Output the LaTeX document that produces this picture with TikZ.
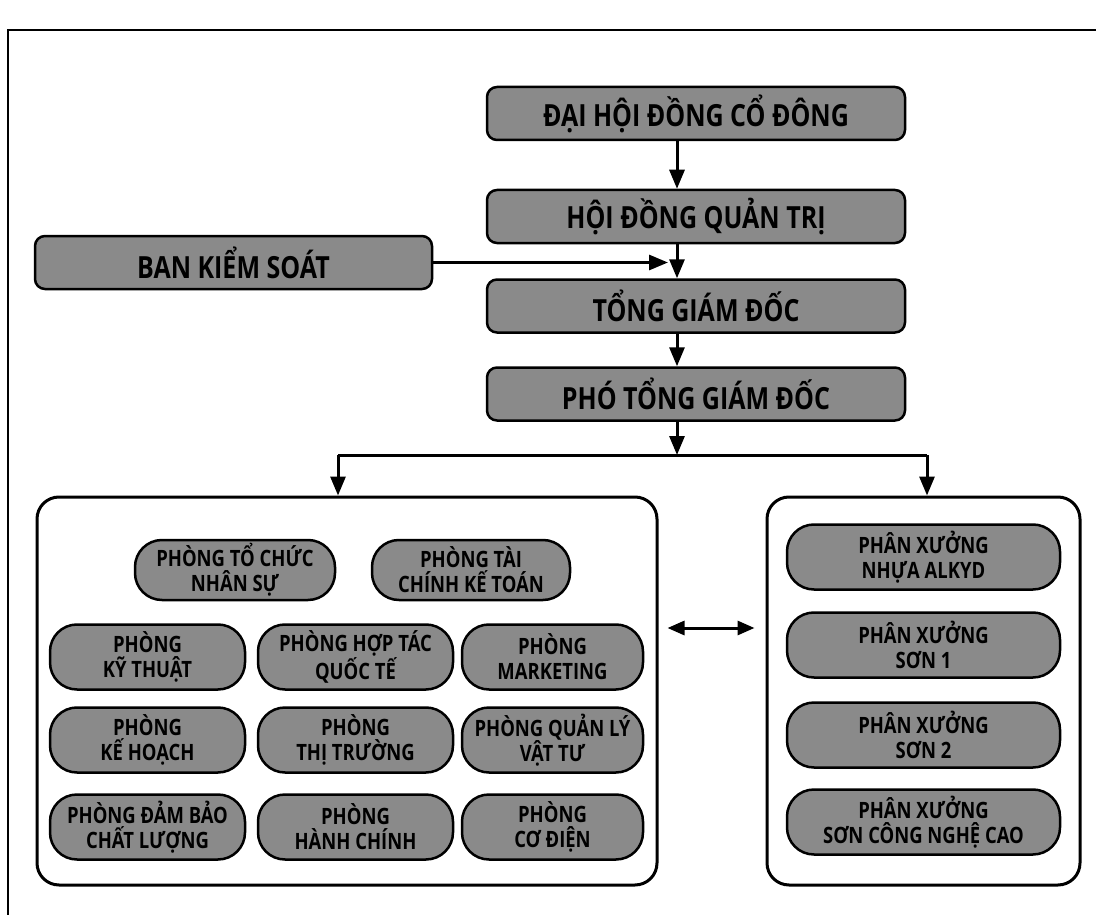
\documentclass[tikz,border=0pt]{standalone}
\usepackage{fontspec}
\setmainfont{Open Sans}[FakeStretch=0.82]
\usetikzlibrary{arrows.meta,calc}
\begin{document}
\begin{tikzpicture}[x=1pt,y=-1pt,
  topbox/.style={draw=black,line width=2.5pt,fill=black!46,rounded corners=10pt,
    minimum width=418pt,minimum height=53pt,inner sep=0pt,
    font=\fontsize{30.5}{33}\selectfont\bfseries},
  unitbox/.style={draw=black,line width=2.5pt,fill=black!46,rounded corners=27pt,
    minimum height=65pt,inner sep=0pt,align=center,
    font=\fontsize{22.5}{25}\selectfont\bfseries},
  groupbox/.style={draw=black,line width=3pt,fill=white,rounded corners=22pt,inner sep=0pt},
  conn/.style={line width=3pt},
  arr/.style={conn,-{Triangle[length=19pt,width=15pt]}},
  darr/.style={conn,{Triangle[length=17pt,width=14pt]}-{Triangle[length=17pt,width=14pt]}}
]
\useasboundingbox (0,0) rectangle (1096,915);
\fill[white] (0,0) rectangle (1096,915);
\draw[line width=2pt] (8,915) -- (8,30) -- (1096,30);

\coordinate (ax) at (677,0);

% top chain
\node[topbox] (dh) at (696,113.5) {ĐẠI HỘI ĐỒNG CỔ ĐÔNG};
\node[topbox] (hd) at (696,216.5) {HỘI ĐỒNG QUẢN TRỊ};
\node[topbox] (tgd) at (696,306) {TỔNG GIÁM ĐỐC};
\node[topbox] (ptgd) at (696,394) {PHÓ TỔNG GIÁM ĐỐC};
\node[topbox,minimum width=397pt] (bks) at (233.5,262.5) {BAN KIỂM SOÁT};

% group boxes
\node[groupbox,minimum width=620pt,minimum height=388pt] (lg) at (347,691) {};
\node[groupbox,minimum width=313pt,minimum height=388pt] (rg) at (923.5,691) {};

% left units
\node[unitbox,minimum width=200pt,minimum height=60pt] (u1) at (235,570) {PHÒNG TỔ CHỨC\\NHÂN SỰ};
\node[unitbox,minimum width=198pt,minimum height=60pt] (u2) at (471,570) {PHÒNG TÀI\\CHÍNH KẾ TOÁN};

\node[unitbox,minimum width=195pt] (u3) at (147.5,657) {PHÒNG\\KỸ THUẬT};
\node[unitbox,minimum width=195pt] (u4) at (355.5,657) {PHÒNG HỢP TÁC\\QUỐC TẾ};
\node[unitbox,minimum width=181pt] (u5) at (552.5,657) {PHÒNG\\MARKETING};

\node[unitbox,minimum width=195pt] (u6) at (147.5,740) {PHÒNG\\KẾ HOẠCH};
\node[unitbox,minimum width=195pt] (u7) at (355.5,740) {PHÒNG\\THỊ TRƯỜNG};
\node[unitbox,minimum width=181pt] (u8) at (552.5,740) {PHÒNG QUẢN LÝ\\VẬT TƯ};

\node[unitbox,minimum width=195pt] (u9) at (147.5,827) {PHÒNG ĐẢM BẢO\\CHẤT LƯỢNG};
\node[unitbox,minimum width=195pt] (u10) at (355.5,827) {PHÒNG\\HÀNH CHÍNH};
\node[unitbox,minimum width=181pt] (u11) at (552.5,827) {PHÒNG\\CƠ ĐIỆN};

% right units
\node[unitbox,minimum width=273pt] (x1) at (923.5,557) {PHÂN XƯỞNG\\NHỰA ALKYD};
\node[unitbox,minimum width=273pt] (x2) at (923.5,645) {PHÂN XƯỞNG\\SƠN 1};
\node[unitbox,minimum width=273pt] (x3) at (923.5,735) {PHÂN XƯỞNG\\SƠN 2};
\node[unitbox,minimum width=273pt] (x4) at (923.5,822) {PHÂN XƯỞNG\\SƠN CÔNG NGHỆ CAO};

% connectors
\draw[arr] (dh.south -| ax) -- (hd.north -| ax);
\draw[arr] (hd.south -| ax) -- (tgd.north -| ax);
\draw[arr] (tgd.south -| ax) -- (ptgd.north -| ax);
\coordinate (bkstip) at (668,262.5);
\draw[arr] (bks.east) -- (bkstip);
\coordinate (split) at (677,455);
\coordinate (lsplit) at (338,455);
\coordinate (rsplit) at (927,455);
\draw[arr] (ptgd.south -| ax) -- (split);
\draw[conn] (lsplit) -- (rsplit);
\draw[arr] (lsplit) -- (lsplit |- lg.north);
\draw[arr] (rsplit) -- (rsplit |- rg.north);
\draw[darr,shorten <=9pt,shorten >=11pt] (lg.east |- 0,628) -- (rg.west |- 0,628);
\end{tikzpicture}
\end{document}
